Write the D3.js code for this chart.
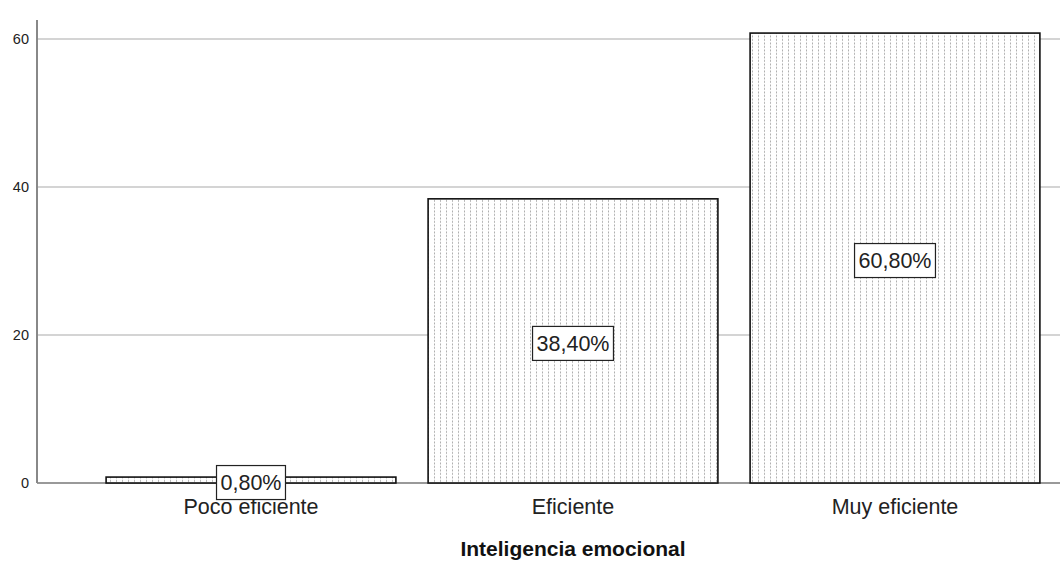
<!DOCTYPE html>
<html><head><meta charset="utf-8">
<script src="https://cdn.jsdelivr.net/npm/d3@7"></script>
<style>body{margin:0;background:#fff}svg{display:block}</style>
</head><body>
<script>
const categories = ["Poco eficiente", "Eficiente", "Muy eficiente"];
const values = [0.8, 38.4, 60.8];
const labels = ["0,80%", "38,40%", "60,80%"];
const yTicks = [0, 20, 40, 60];
const xTitle = "Inteligencia emocional";

const W = 1060, H = 561;
const FONT = "Liberation Sans, Arial, sans-serif";
const svg = d3.select("body").append("svg").attr("width", W).attr("height", H);
const axisX = 37, rightX = 1060, baseY = 483, topY = 20;
const y = d3.scaleLinear().domain([0, 60]).range([baseY, 39]);
const x = d3.scaleBand().domain(categories).range([90, 1056]).paddingInner(0.1).paddingOuter(0.05);

const defs = svg.append("defs");
const pat = defs.append("pattern").attr("id", "dots").attr("patternUnits", "userSpaceOnUse")
  .attr("width", 6).attr("height", 3.5);
pat.append("rect").attr("width", 6).attr("height", 3.5).attr("fill", "#fff");
pat.append("rect").attr("x", 2).attr("y", 0.5).attr("width", 1).attr("height", 1.8).attr("fill", "#a8a8a8");

// gridlines
svg.append("g").selectAll("line").data(yTicks).join("line")
  .attr("x1", axisX).attr("x2", rightX).attr("y1", d => y(d)).attr("y2", d => y(d))
  .attr("stroke", d => d === 0 ? "#777" : "#c6c6c6").attr("stroke-width", 1.3);

// y axis line
svg.append("line").attr("x1", axisX).attr("x2", axisX).attr("y1", topY).attr("y2", baseY)
  .attr("stroke", "#888").attr("stroke-width", 2);

// y tick labels
svg.append("g").selectAll("text").data(yTicks).join("text")
  .attr("x", 29).attr("y", d => y(d)).attr("dy", "0.35em").attr("text-anchor", "end")
  .attr("font-family", FONT).attr("font-size", 14.5).attr("fill", "#222")
  .text(d => d);

// bars
svg.append("g").selectAll("rect").data(values).join("rect")
  .attr("x", (d, i) => x(categories[i])).attr("width", x.bandwidth())
  .attr("y", d => y(d)).attr("height", d => baseY - y(d))
  .attr("fill", "url(#dots)").attr("stroke", "#111").attr("stroke-width", 1.6);

// x tick labels
svg.append("g").selectAll("text").data(categories).join("text")
  .attr("x", d => x(d) + x.bandwidth() / 2).attr("y", 506).attr("dy", "0.35em")
  .attr("text-anchor", "middle").attr("font-family", FONT)
  .attr("font-size", 21.5).attr("fill", "#222").text(d => d);

// value labels
const lg = svg.append("g").selectAll("g").data(values).join("g")
  .attr("transform", (d, i) => `translate(${x(categories[i]) + x.bandwidth() / 2},${y(d / 2) + 2.5})`);
lg.append("text").attr("text-anchor", "middle").attr("dy", "0.36em")
  .attr("font-family", FONT).attr("font-size", 21.5).attr("fill", "#222")
  .text((d, i) => labels[i]);
lg.each(function() {
  const g = d3.select(this);
  const w = g.select("text").node().getComputedTextLength();
  g.insert("rect", "text").attr("x", -w / 2 - 4).attr("y", -17).attr("width", w + 8).attr("height", 34)
    .attr("fill", "#fff").attr("stroke", "#222").attr("stroke-width", 1.2);
});

// x title
svg.append("text").attr("x", x("Eficiente") + x.bandwidth() / 2).attr("y", 549).attr("dy", "0.35em")
  .attr("text-anchor", "middle").attr("font-family", FONT)
  .attr("font-size", 21).attr("font-weight", "bold").attr("fill", "#111").text(xTitle);
</script>
</body></html>
